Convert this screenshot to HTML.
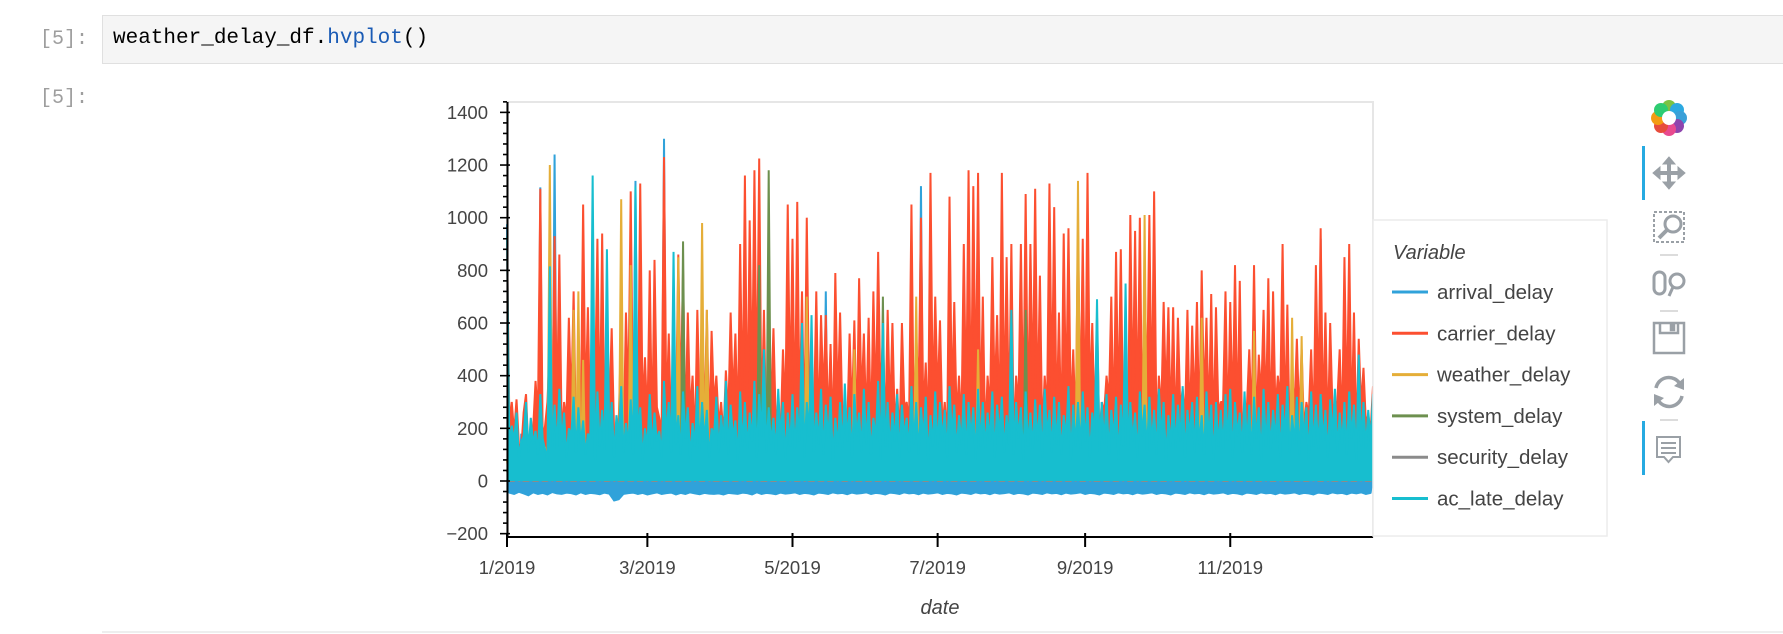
<!DOCTYPE html>
<html><head><meta charset="utf-8">
<style>
html,body{margin:0;padding:0;background:#fff;width:1783px;height:634px;overflow:hidden;font-family:"Liberation Sans",sans-serif;}
.prompt{position:absolute;font-family:"Liberation Mono",monospace;font-size:20px;color:#9e9e9e;}
#incell{position:absolute;left:102px;top:15px;width:1690px;height:49px;background:#f5f5f5;border:1px solid #e0e0e0;box-sizing:border-box;}
#code{position:absolute;left:10px;top:11px;font-family:"Liberation Mono",monospace;font-size:21px;color:#000;white-space:pre;}
#chart{position:absolute;left:0;top:0;}
</style></head><body>
<div class="prompt" style="left:40px;top:28px;">[5]:</div>
<div id="incell"><span id="code">weather_delay_df.<span style="color:#1a5bb5">hvplot</span>()</span></div>
<div class="prompt" style="left:40px;top:87px;">[5]:</div>
<svg id="chart" width="1783" height="634" xmlns="http://www.w3.org/2000/svg">
<rect x="507" y="102" width="866" height="435" fill="none" stroke="#e6e6e6" stroke-width="2"/>
<g id="series"></g>
<g id="axes"></g>
<text x="940" y="614" font-size="20" font-style="italic" fill="#444" text-anchor="middle">date</text>
<line x1="102" y1="632" x2="1783" y2="632" stroke="#eeeeee" stroke-width="2"/>
<g>
<rect x="1373" y="220" width="234" height="316" fill="#fff" stroke="#ececec" stroke-width="1.5"/>
<text x="1393" y="259" font-size="20" font-style="italic" fill="#444">Variable</text>
<g id="legendItems"></g>
</g>
<g>
<g transform="translate(1669,118)">
<circle cx="0" cy="-11" r="7" fill="#7cc242"/>
<circle cx="8" cy="-8" r="7" fill="#2ca9e1"/>
<circle cx="11" cy="0" r="7" fill="#3aa0d8"/>
<circle cx="8" cy="8" r="7" fill="#8e44ad"/>
<circle cx="0" cy="11" r="7" fill="#e84a8f"/>
<circle cx="-8" cy="8" r="7" fill="#e74c3c"/>
<circle cx="-11" cy="0" r="7" fill="#f39c12"/>
<circle cx="-8" cy="-8" r="7" fill="#2ecc71"/>
<circle r="7" fill="#fff"/>
</g>
<rect x="1642" y="146" width="3" height="54" fill="#26aae1"/>
<g fill="#9aa0a6" stroke="#9aa0a6">
<line x1="1655" y1="173" x2="1683" y2="173" stroke-width="4"/><line x1="1669" y1="159" x2="1669" y2="187" stroke-width="4"/>
<polygon points="1669,157 1663,164 1675,164"/><polygon points="1669,189 1663,182 1675,182"/><polygon points="1653,173 1660,167 1660,179"/><polygon points="1685,173 1678,167 1678,179"/>
</g>
<g fill="none" stroke="#9aa0a6">
<rect x="1654" y="212" width="30" height="30" stroke-dasharray="3 2" stroke-width="2"/>
<circle cx="1673" cy="224" r="8" stroke-width="3"/><line x1="1667" y1="230" x2="1659" y2="238" stroke-width="4"/>
</g>
<line x1="1660" y1="255" x2="1678" y2="255" stroke="#d0d0d0" stroke-width="1.5"/>
<g fill="none" stroke="#9aa0a6" stroke-width="3">
<rect x="1654" y="272" width="11" height="22" rx="5.5"/><circle cx="1677" cy="281" r="7"/><line x1="1673" y1="287" x2="1669" y2="296"/>
</g>
<line x1="1660" y1="311" x2="1678" y2="311" stroke="#d0d0d0" stroke-width="1.5"/>
<g fill="none" stroke="#9aa0a6" stroke-width="2.5">
<rect x="1654" y="323" width="30" height="30"/><path d="M1660 323 v10 h18 v-10"/><rect x="1671" y="325" width="3" height="5" fill="#9aa0a6"/>
</g>
<g fill="none" stroke="#9aa0a6" stroke-width="3.5">
<path d="M1656 388 a13 13 0 0 1 24 -4"/><path d="M1682 396 a13 13 0 0 1 -24 4"/>
<polygon points="1684,378 1684,390 1674,386" fill="#9aa0a6" stroke="none"/><polygon points="1654,406 1654,394 1664,398" fill="#9aa0a6" stroke="none"/>
</g>
<line x1="1660" y1="420" x2="1678" y2="420" stroke="#d0d0d0" stroke-width="1.5"/>
<rect x="1642" y="421" width="3" height="54" fill="#26aae1"/>
<g fill="none" stroke="#9aa0a6" stroke-width="2">
<path d="M1657 437 h23 v20 h-7 l-4.5 5 l-4.5 -5 h-7 z"/><line x1="1661" y1="443" x2="1676" y2="443"/><line x1="1661" y1="448" x2="1676" y2="448"/><line x1="1661" y1="453" x2="1676" y2="453"/>
</g>
</g>
</svg>
<script>
// ---- data (daily, 2019-01-01 .. 2019-12-31) ----
const startDate = "2019-01-01";
const N_DAYS = 365;
const seriesNames = ["arrival_delay","carrier_delay","weather_delay","system_delay","security_delay","ac_late_delay"];
const seriesColors = ["#30a2da","#fc4f30","#e5ae38","#6d904f","#8b8b8b","#17becf"];
const xTickLabels = ["1/2019","3/2019","5/2019","7/2019","9/2019","11/2019"];
const xTickDays = [0,59,120,181,243,304];
const yTicks = [-200,0,200,400,600,800,1000,1200,1400];

const carrier_delay = [915,220,300,180,310,140,120,260,330,110,150,200,380,240,1110,160,210,300,520,190,930,250,860,170,300,230,620,280,720,150,250,210,1050,260,660,180,300,320,920,200,940,150,250,270,580,190,180,240,580,130,640,300,1100,220,830,170,1130,260,470,210,800,150,840,280,240,190,1230,250,560,160,300,230,860,300,800,180,640,250,400,140,650,270,380,200,650,160,570,290,400,210,300,170,420,240,640,300,560,190,900,250,1160,180,990,330,1180,260,1225,200,650,150,610,280,580,210,300,170,500,250,1050,300,920,190,1060,240,720,160,1000,280,420,220,720,180,630,310,630,200,520,150,790,270,640,230,300,190,560,250,610,170,770,290,560,210,620,160,720,260,870,300,550,180,650,240,600,200,350,150,600,280,300,220,1050,190,560,310,1000,240,450,170,1170,260,700,300,610,200,300,150,1080,270,680,230,400,190,900,250,1180,180,1120,290,1170,210,700,160,400,260,850,300,630,180,1170,240,850,200,900,150,400,280,900,220,1090,190,900,310,1110,240,780,170,400,260,1130,300,1040,200,640,150,940,270,960,230,500,190,950,250,920,180,1170,290,600,210,620,160,300,260,400,300,700,180,870,240,880,200,500,150,1010,280,950,220,1000,190,790,310,1010,240,1100,170,400,260,680,300,660,200,660,150,620,270,350,230,650,190,590,250,680,180,800,290,620,210,710,160,660,260,300,300,720,180,680,240,820,200,760,150,300,280,500,220,820,190,480,310,650,240,770,170,720,260,400,300,900,200,670,150,410,270,540,230,500,190,300,250,500,180,820,290,960,210,640,160,600,260,300,300,500,180,850,240,900,200,640,150,540,280,430,220,250,190,360,230,300,200,340,180,260,210];

const ac_late_delay = [930,120,210,150,260,90,150,170,300,110,240,140,190,100,330,160,120,80,815,130,
290,120,350,150,260,90,200,170,320,110,280,140,230,100,180,160,1160,80,340,130,
270,120,880,150,300,90,250,170,360,110,220,140,310,100,1120,160,280,80,200,130,
330,120,260,150,190,90,380,170,300,110,870,140,250,100,340,160,280,80,220,130,
360,120,300,150,270,90,200,170,320,110,250,140,380,100,290,160,230,80,340,130,
300,120,260,150,380,90,330,170,500,110,280,140,240,100,350,160,300,80,260,130,
330,120,280,150,600,90,300,170,630,110,260,140,350,100,290,160,320,80,240,130,
300,120,370,150,280,90,330,170,260,110,350,140,300,100,240,160,380,80,600,130,
300,120,260,150,330,90,290,170,240,110,360,140,300,100,280,160,320,80,250,130,
340,120,300,150,270,90,360,170,290,110,250,140,330,100,300,160,280,80,350,130,
300,120,260,150,340,90,290,170,320,110,250,140,650,100,300,160,280,80,340,130,
260,120,310,150,290,90,350,170,270,110,320,140,300,100,250,160,360,80,290,130,
300,120,340,150,280,90,260,170,690,110,300,140,330,100,270,160,320,80,290,130,
750,120,300,150,260,90,340,170,290,110,320,140,270,100,350,160,300,80,250,130,
330,120,290,150,360,90,270,170,300,110,320,140,250,100,340,160,290,80,300,130,
270,120,330,150,350,90,300,170,260,110,340,140,290,100,320,160,280,80,350,130,
300,120,270,150,330,90,290,170,360,110,250,140,320,100,300,160,280,80,340,130,
290,120,330,150,270,90,310,170,350,110,260,140,300,100,340,160,290,80,480,130,
300,120,270,150,330];

const arrival_delay = [975,-45,200,-50,200,-42,180,-48,220,-55,200,-44,190,-50,1115,-46,200,-52,210,-43,1240,-48,200,-50,190,-45,220,-47,200,-52,180,-44,210,-50,200,-46,220,-48,200,-51,190,-45,210,-49,200,-75,220,-70,200,-50,190,-47,210,-45,1140,-50,200,-46,180,-52,220,-48,200,-44,210,-50,1300,-47,200,-45,190,-52,220,-46,200,-50,210,-44,200,-48,180,-51,220,-46,200,-49,190,-50,210,-48,200,-52,220,-46,200,-48,180,-50,210,-45,200,-47,190,-52,220,-44,200,-50,210,-46,200,-48,190,-51,220,-45,200,-49,180,-47,210,-44,200,-50,220,-46,200,-48,190,-52,210,-45,200,-47,720,-50,200,-44,210,-48,200,-46,220,-51,190,-45,200,-49,180,-47,210,-44,200,-50,220,-46,200,-48,190,-52,210,-45,200,-47,220,-50,200,-44,190,-48,210,-46,200,-51,1120,-45,200,-49,210,-47,190,-44,200,-50,220,-46,180,-48,200,-52,210,-45,200,-47,190,-50,220,-44,200,-48,210,-46,200,-51,190,-45,220,-49,200,-47,180,-44,210,-50,200,-46,220,-48,190,-52,200,-45,210,-47,200,-50,190,-44,220,-48,200,-46,210,-51,200,-45,180,-49,220,-47,200,-44,190,-50,210,-46,200,-48,220,-52,200,-45,190,-47,210,-50,200,-44,220,-48,180,-46,200,-51,210,-45,190,-49,200,-47,220,-44,200,-50,210,-46,190,-48,200,-52,220,-45,200,-47,180,-50,210,-44,200,-48,190,-46,220,-51,200,-45,210,-49,200,-47,190,-44,220,-50,200,-46,210,-48,180,-52,200,-45,220,-47,190,-50,200,-44,210,-48,200,-46,220,-51,190,-45,200,-49,210,-47,200,-44,180,-50,220,-46,200,-48,190,-52,210,-45,920,-47,200,-50,220,-44,190,-48,200,-46,210,-51,200,-45,210,-48,190,-44,220,-50,200,-46,210,-47,200,-45,190,-49,210,-44,200,-46];

const weather_delay = [80,0,120,0,60,0,150,0,90,0,40,0,110,0,70,0,130,0,1200,0,80,0,120,0,60,0,150,0,650,0,720,0,460,0,70,0,130,0,50,0,80,0,120,0,60,0,150,0,1070,0,40,0,820,0,70,0,130,0,50,0,80,0,120,0,60,0,150,0,90,0,40,0,850,0,70,0,130,0,50,0,80,0,980,0,650,0,150,0,90,0,40,0,110,0,70,0,130,0,50,0,80,0,120,0,60,0,150,0,90,0,40,0,110,0,70,0,130,0,50,0,80,0,120,0,60,0,700,0,90,0,40,0,110,0,70,0,130,0,50,0,80,0,120,0,60,0,500,0,90,0,40,0,110,0,70,0,130,0,50,0,80,0,120,0,60,0,150,0,90,0,40,0,700,0,70,0,130,0,50,0,80,0,120,0,60,0,150,0,90,0,40,0,110,0,70,0,130,0,500,0,80,0,120,0,60,0,150,0,90,0,40,0,110,0,70,0,130,0,50,0,80,0,120,0,60,0,150,0,90,0,40,0,110,0,70,0,130,0,50,0,1140,0,120,0,60,0,150,0,90,0,40,0,110,0,70,0,130,0,50,0,80,0,120,0,60,0,150,0,1010,0,40,0,110,0,70,0,130,0,50,0,80,0,120,0,60,0,150,0,90,0,40,0,620,0,70,0,130,0,50,0,80,0,120,0,60,0,150,0,90,0,40,0,110,0,570,0,130,0,50,0,80,0,120,0,60,0,150,0,90,0,620,0,110,0,550,0,130,0,50,0,80,0,120,0,60,0,150,0,90,0,40,0,110,0,70,0,130,0,50,0,80,0,120,0,60,0,90,0,40,0,70,0];

const system_delay = [40,0,20,0,60,0,30,0,50,0,20,0,40,0,70,0,30,0,50,0,40,0,20,0,60,0,30,0,50,0,20,0,40,0,70,0,30,0,50,0,40,0,20,0,60,0,30,0,50,0,20,0,40,0,70,0,30,0,50,0,40,0,20,0,60,0,30,0,50,0,20,0,40,0,910,0,30,0,50,0,40,0,20,0,60,0,30,0,50,0,20,0,40,0,70,0,30,0,50,0,40,0,20,0,60,0,820,0,50,0,1180,0,40,0,70,0,30,0,50,0,40,0,20,0,60,0,30,0,50,0,20,0,40,0,70,0,30,0,50,0,40,0,20,0,60,0,30,0,50,0,20,0,40,0,70,0,30,0,700,0,40,0,20,0,60,0,30,0,50,0,20,0,40,0,70,0,30,0,50,0,40,0,20,0,60,0,30,0,50,0,20,0,40,0,70,0,30,0,50,0,40,0,20,0,60,0,30,0,50,0,20,0,40,0,70,0,30,0,650,0,40,0,20,0,60,0,30,0,50,0,20,0,40,0,70,0,30,0,50,0,40,0,20,0,60,0,30,0,50,0,20,0,40,0,70,0,30,0,50,0,40,0,20,0,60,0,30,0,50,0,20,0,40,0,70,0,30,0,50,0,40,0,20,0,60,0,30,0,50,0,20,0,40,0,70,0,30,0,50,0,40,0,20,0,60,0,30,0,50,0,20,0,40,0,70,0,30,0,50,0,40,0,20,0,60,0,30,0,50,0,20,0,40,0,70,0,30,0,50,0,40,0,20,0,60,0,30,0,50,0];

const security_delay = [10,0,0,0,20,0,5,0,0,0,15,0,0,0,10,0,0,0,25,0,10,0,0,0,20,0,5,0,0,0,15,0,0,0,10,0,0,0,25,0,10,0,0,0,20,0,5,0,0,0,15,0,0,0,10,0,0,0,25,0,10,0,0,0,20,0,5,0,0,0,15,0,0,0,10,0,0,0,25,0,10,0,0,0,20,0,5,0,0,0,15,0,0,0,10,0,0,0,25,0,10,0,0,0,20,0,5,0,0,0,15,0,0,0,10,0,0,0,25,0,10,0,0,0,20,0,5,0,0,0,15,0,0,0,10,0,0,0,25,0,10,0,0,0,20,0,5,0,0,0,15,0,0,0,10,0,0,0,25,0,10,0,0,0,20,0,5,0,0,0,15,0,0,0,10,0,0,0,25,0,10,0,0,0,20,0,5,0,0,0,15,0,0,0,10,0,0,0,25,0,10,0,0,0,20,0,5,0,0,0,15,0,0,0,10,0,0,0,25,0,10,0,0,0,20,0,5,0,0,0,15,0,0,0,10,0,0,0,25,0,10,0,0,0,20,0,5,0,0,0,15,0,0,0,10,0,0,0,25,0,10,0,0,0,20,0,5,0,0,0,15,0,0,0,10,0,0,0,25,0,10,0,0,0,20,0,5,0,0,0,15,0,0,0,10,0,0,0,25,0,10,0,0,0,20,0,5,0,0,0,15,0,0,0,10,0,0,0,25,0,10,0,0,0,20,0,5,0,0,0,15,0,0,0,10,0,0,0,25,0,10,0,0,0,20,0,5,0,0,0,15,0,0,0,10,0,0,0,25,0,10,0,0,0,20,0,5,0,0,0,15,0,0,0,10,0];

const seriesData = [arrival_delay,carrier_delay,weather_delay,system_delay,security_delay,ac_late_delay];

// ---- axis functions ----
const X0=507, X1=1373, DAYS=364;
const Y_ZERO=481, Y_PER=0.2633;
function xScale(d){ return X0 + d*(X1-X0)/DAYS; }
function yScale(v){ return Y_ZERO - v*Y_PER; }

const NS="http://www.w3.org/2000/svg";
const gS=document.getElementById('series');
seriesData.forEach((full,si)=>{
  const arr=full.slice(0,N_DAYS);
  const n=arr.length;
  const linePts=arr.map((v,d)=>xScale(d).toFixed(2)+","+yScale(v).toFixed(2));
  const areaPts=[xScale(0).toFixed(2)+","+yScale(0)].concat(linePts,[xScale(n-1).toFixed(2)+","+yScale(0)]).join(" ");
  const pg=document.createElementNS(NS,'polygon');
  pg.setAttribute('points',areaPts);
  pg.setAttribute('fill',seriesColors[si]);
  pg.setAttribute('stroke','none');
  
  
  gS.appendChild(pg);
  const neg=[];
  arr.forEach((v,d)=>{ if(v<0) neg.push(xScale(d).toFixed(2)+","+yScale(v).toFixed(2)); });
  if(neg.length>1){
    const np=[xScale(0).toFixed(2)+","+yScale(0)].concat(neg,[xScale(n-1).toFixed(2)+","+yScale(0)]).join(" ");
    const ng=document.createElementNS(NS,'polygon');
    ng.setAttribute('points',np);
    ng.setAttribute('fill',seriesColors[si]);
    ng.setAttribute('stroke',seriesColors[si]);
    ng.setAttribute('stroke-width','1.5');
    
    
    gS.appendChild(ng);
  }
  const pl=document.createElementNS(NS,'polyline');
  pl.setAttribute('points',linePts.join(" "));
  pl.setAttribute('fill','none');
  pl.setAttribute('stroke',seriesColors[si]);
  pl.setAttribute('stroke-width','2');
  pl.setAttribute('stroke-linejoin','bevel');
  
  
  gS.appendChild(pl);
});

const gA=document.getElementById('axes');
function mk(tag,attrs){const e=document.createElementNS(NS,tag);for(const k in attrs)e.setAttribute(k,attrs[k]);return e;}
const ya=mk('line',{x1:507.5,y1:102,x2:507.5,y2:538,stroke:'#000','stroke-width':2});


gA.appendChild(ya);
for(let v=-200; v<=1440; v+=40){
  const major = (v%200===0);
  const t=mk('line',{x1:major?500:503,y1:yScale(v),x2:major?510:507,y2:yScale(v),stroke:'#000','stroke-width':1.6});
  
  
  gA.appendChild(t);
}
yTicks.forEach(v=>{
  const t=mk('text',{x:488,y:yScale(v)+6.5,'font-size':18.5,fill:'#444','text-anchor':'end'});
  t.textContent = v<0 ? '\u2212'+Math.abs(v) : String(v);
  
  
  gA.appendChild(t);
});
const xa=mk('line',{x1:506.5,y1:537,x2:1373,y2:537,stroke:'#000','stroke-width':2});


gA.appendChild(xa);
xTickDays.forEach((d,i)=>{
  const t=mk('line',{x1:xScale(d),y1:533,x2:xScale(d),y2:547,stroke:'#000','stroke-width':2});
  
  
  gA.appendChild(t);
  const l=mk('text',{x:xScale(d),y:574,'font-size':18.5,fill:'#444','text-anchor':'middle'});
  l.textContent=xTickLabels[i];
  
  
  gA.appendChild(l);
});
const gL=document.getElementById('legendItems');
seriesNames.forEach((n,i)=>{
  const y=292+i*41.3;
  const g=mk('g',{});
  
  
  g.appendChild(mk('line',{x1:1392,y1:y,x2:1428,y2:y,stroke:seriesColors[i],'stroke-width':3}));
  const t=mk('text',{x:1437,y:y+7,'font-size':20.5,fill:'#444'});
  t.textContent=n;
  g.appendChild(t);
  gL.appendChild(g);
});
</script>
</body></html>
